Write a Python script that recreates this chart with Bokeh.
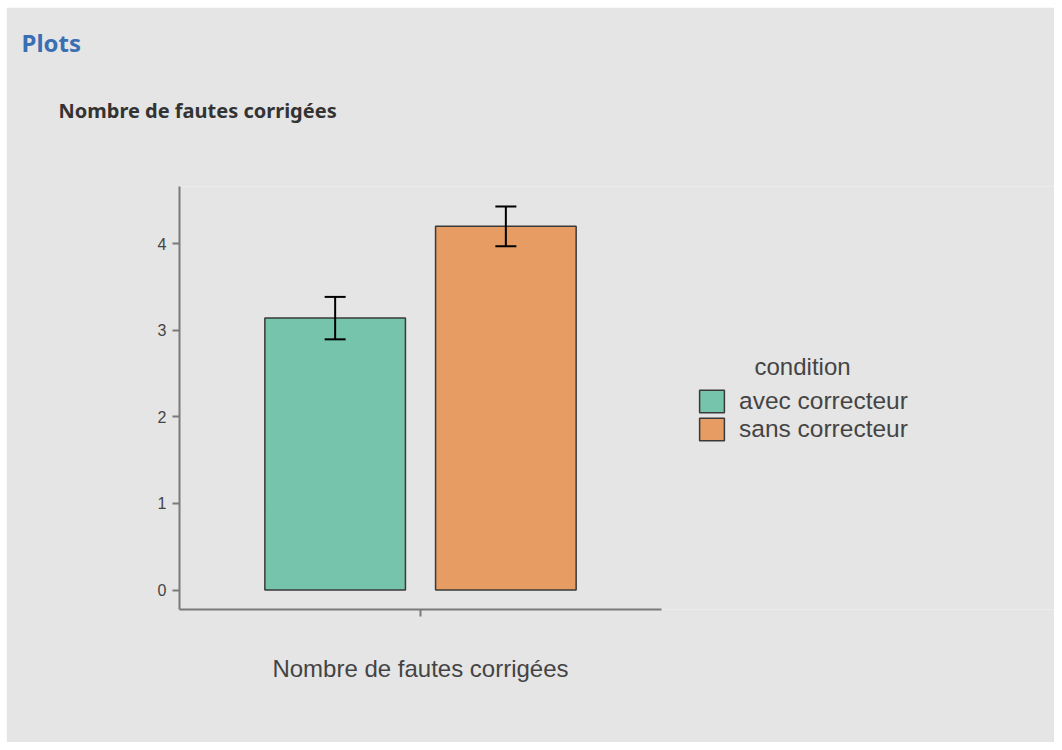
from bokeh.plotting import figure
from bokeh.layouts import column, row
from bokeh.models import (ColumnDataSource, Range1d, FixedTicker, Whisker, TeeHead,
                          Legend, LegendItem, Title, Label, Spacer)
from bokeh.embed import file_html
from bokeh.resources import INLINE

# ---- data ----
group_label = "Nombre de fautes corrigées"
legend_title = "condition"
panel_title = "Plots"
conditions = ["avec correcteur", "sans correcteur"]
means = [3.14, 4.20]
errors = [0.245, 0.23]
colors = ["#75c4ab", "#e69c63"]
y_ticks = [0, 1, 2, 3, 4]

dodge = 0.2125
n = len(conditions)
xpos = [1 + (i - (n - 1) / 2) * 2 * dodge for i in range(n)]

src = ColumnDataSource(dict(
    x=xpos, mean=means, condition=conditions, color=colors,
    upper=[m + e for m, e in zip(means, errors)],
    lower=[m - e for m, e in zip(means, errors)],
))

BG = "#e5e5e5"
AX = "#7a7a7a"
TXT = "#444444"

W, H = 1048, 735
LEFT, TOP, BOTTOM = 173, 179, 133
frame_w = W - LEFT
x0, x1 = 0.4, 1.6            # visible x axis span
axis_px = 482                 # pixel length of the x axis line
x_end = x0 + (x1 - x0) * frame_w / axis_px

p = figure(width=W, height=H, output_backend="svg", toolbar_location=None,
           x_range=Range1d(x0, x_end), y_range=Range1d(-0.225, 4.66),
           min_border_left=LEFT, min_border_right=0, min_border_top=TOP,
           min_border_bottom=BOTTOM)
p.background_fill_color = BG
p.border_fill_color = BG
p.outline_line_color = None
p.grid.visible = False

bars = p.vbar(x="x", top="mean", bottom=0, width=0.35, source=src,
              fill_color="color", line_color="#3a3a3a", line_width=1.5)

wh = Whisker(source=src, base="x", upper="upper", lower="lower", dimension="height",
             line_color="black", line_width=2, level="overlay",
             upper_head=TeeHead(size=21, line_color="black", line_width=2),
             lower_head=TeeHead(size=21, line_color="black", line_width=2))
p.add_layout(wh)

# axes
p.xaxis.bounds = (x0, x1)
p.xaxis.ticker = FixedTicker(ticks=[1])
p.xaxis.major_label_overrides = {1: group_label}
p.xaxis.major_label_text_font = "Liberation Sans"
p.xaxis.major_label_text_font_size = "24px"
p.xaxis.major_label_text_color = TXT
p.xaxis.major_label_standoff = 38
p.yaxis.ticker = FixedTicker(ticks=y_ticks)
p.yaxis.major_label_text_font = "Liberation Sans"
p.yaxis.major_label_text_font_size = "16px"
p.yaxis.major_label_text_color = TXT
p.yaxis.major_label_standoff = 6
for ax in (p.xaxis, p.yaxis):
    ax.axis_line_color = AX
    ax.axis_line_width = 2
    ax.major_tick_line_color = AX
    ax.major_tick_line_width = 2
    ax.major_tick_out = 7
    ax.major_tick_in = 0
    ax.minor_tick_line_color = None

# legend
legend = Legend(items=[LegendItem(label=c, renderers=[bars], index=i) for i, c in enumerate(conditions)],
                location=(517, 166), padding=0, margin=0, spacing=0,
                glyph_width=31, glyph_height=28, label_height=28, label_standoff=12,
                label_text_font="Liberation Sans", label_text_font_size="24.5px",
                label_text_color=TXT, background_fill_alpha=0, border_line_color=None)
p.add_layout(legend, "center")
p.add_layout(Label(x=575, y=243, x_units="screen", y_units="screen", text=legend_title,
                   text_font="Liberation Sans", text_font_size="24px", text_color=TXT,
                   text_baseline="middle"))

# titles above the plot (first added = closest to the frame)
p.add_layout(Title(text=" ", text_font_size="2px", standoff=24), "above")
p.add_layout(Title(text=group_label, align="left", offset=-121, standoff=70,
                   text_font="Noto Sans", text_font_size="20px", text_font_style="bold",
                   text_color="#333333"), "above")
p.add_layout(Title(text=panel_title, align="left", offset=-158, standoff=2,
                   text_font="Noto Sans", text_font_size="24px", text_font_style="bold",
                   text_color="#3b6fb3"), "above")

layout = column(Spacer(width=W + 6, height=7), row(Spacer(width=6, height=H), p))
open("out.html", "w").write(file_html(layout, INLINE))
